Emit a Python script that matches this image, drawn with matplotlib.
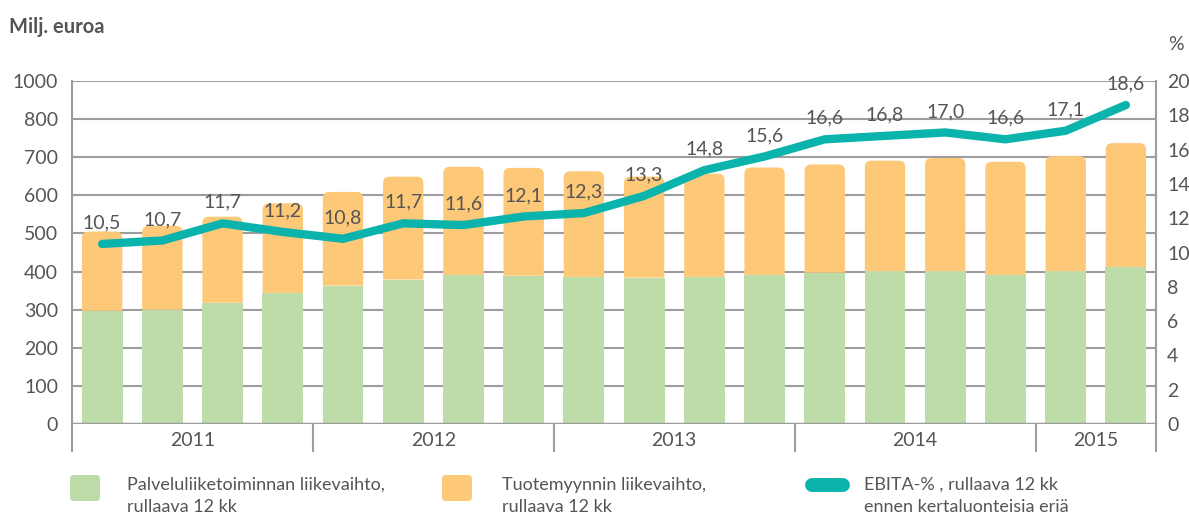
import numpy as np
import matplotlib
matplotlib.use('Agg')
import matplotlib.pyplot as plt
from matplotlib.lines import Line2D
from matplotlib.patches import PathPatch, FancyBboxPatch
from matplotlib.path import Path

plt.rcParams['font.family'] = ['Lato', 'DejaVu Sans']

# data (rolling 12 months, quarters 2011 Q1 .. 2015 Q2)
years = ['2011', '2012', '2013', '2014', '2015']
quarters_per_year = [4, 4, 4, 4, 2]
services = [297, 300, 318, 344, 363, 379, 391, 389, 386, 384, 386, 391, 397, 401, 401, 391, 401, 412]
totals = [505, 520, 544, 579, 609, 649, 675, 672, 663, 649, 657, 673, 681, 691, 698, 688, 703, 737]
ebita = [10.5, 10.7, 11.7, 11.2, 10.8, 11.7, 11.6, 12.1, 12.3, 13.3, 14.8, 15.6, 16.6, 16.8, 17.0, 16.6, 17.1, 18.6]
left_ticks = [0, 100, 200, 300, 400, 500, 600, 700, 800, 900]
left_labels = ['0', '100', '200', '300', '400', '500', '600', '700', '800', '1000']
right_ticks = [0, 2, 4, 6, 8, 10, 12, 14, 16, 18, 20]

legend_labels = ['Palveluliiketoiminnan liikevaihto,\nrullaava 12 kk',
                 'Tuotemyynnin liikevaihto,\nrullaava 12 kk',
                 'EBITA-% , rullaava 12 kk\nennen kertaluonteisia eriä']

green = '#bddca9'
orange = '#fdc877'
teal = '#0ab3ab'
txt = '#555555'
grid = '#9d9d9d'

x = np.arange(len(services))
W, H = 1189, 516


def rounded_top(xc, bottom, top, w, rx, ry):
    # bar outline with rounded upper corners, in data coordinates
    x0, x1 = xc - w / 2, xc + w / 2
    verts = [(x0, bottom), (x1, bottom), (x1, top - ry), (x1, top), (x1 - rx, top),
             (x0 + rx, top), (x0, top), (x0, top - ry), (x0, bottom)]
    codes = [Path.MOVETO, Path.LINETO, Path.LINETO, Path.CURVE3, Path.CURVE3,
             Path.LINETO, Path.CURVE3, Path.CURVE3, Path.CLOSEPOLY]
    return Path(verts, codes)


fig = plt.figure(figsize=(W / 100, H / 100), dpi=100)
ax = fig.add_axes([72 / W, 1 - 424 / H, (1156 - 72) / W, (424 - 81) / H])

bw = 0.67
ax.bar(x, services, width=bw + 0.01, color=green, lw=0, zorder=2)
# product sales stacked on top, with rounded top corners
for xi, s, t in zip(x, services, totals):
    ax.add_patch(PathPatch(rounded_top(xi, s, t, bw, 0.11, 17), fc=orange, ec='none', lw=0, zorder=2))

ax.set_xlim(-0.5, len(x) - 0.5)
ax.set_ylim(0, 900)
ax.set_yticks(left_ticks)
ax.set_yticklabels(left_labels)
ax.set_xticks([])
for t in left_ticks[1:]:
    ax.axhline(t, color=grid, lw=1.5, zorder=1)
ax.axhline(0, color=grid, lw=2.5, zorder=3)
ax.tick_params(axis='y', length=0, labelsize=14, labelcolor=txt, pad=10)
for side in ['top', 'bottom']:
    ax.spines[side].set_visible(False)
for side in ['left', 'right']:
    ax.spines[side].set_color(grid)
    ax.spines[side].set_linewidth(1.5)

ax2 = ax.twinx()
ax2.plot(x, ebita, color=teal, lw=6, solid_capstyle='round', solid_joinstyle='miter', zorder=4)
for xi, v in zip(x, ebita):
    ax2.annotate(f'{v:.1f}'.replace('.', ','), (xi, v), xytext=(0, 9), textcoords='offset points',
                 ha='center', va='bottom', fontsize=14, color=txt)
ax2.set_ylim(0, 20)
ax2.set_yticks(right_ticks)
ax2.tick_params(axis='y', length=0, labelsize=14, labelcolor=txt, pad=8)
for side in ['top', 'bottom', 'left', 'right']:
    ax2.spines[side].set_visible(False)

# year separators and labels below the axis
edges = np.concatenate([[0], np.cumsum(quarters_per_year)]) - 0.5
for e in edges:
    ax.plot([e, e], [0, -70], color=grid, lw=1.5, clip_on=False, zorder=3)
for i, y in enumerate(years):
    ax.text((edges[i] + edges[i + 1]) / 2, -42, y, ha='center', va='center',
            fontsize=14, color=txt, clip_on=False)

fig.text(9 / W, 1 - 27 / H, 'Milj. euroa', fontsize=14.5, fontweight='bold', color=txt, va='center')
fig.text(1176 / W, 1 - 45 / H, '%', fontsize=14, color=txt, va='center', ha='center')

# legend, drawn by hand in figure pixels
for lx, col in [(70, green), (442, orange)]:
    fig.add_artist(FancyBboxPatch((lx + 4, H - 497), 22, 18, boxstyle='round,pad=4',
                                  fc=col, ec='none', transform=None))
fig.add_artist(Line2D([812 / W, 843 / W], [1 - 485 / H, 1 - 485 / H], color=teal, lw=10,
                      solid_capstyle='round', transform=fig.transFigure))
for tx, lab in zip([127, 502, 864], legend_labels):
    fig.text(tx / W, 1 - 496 / H, lab, fontsize=13, color=txt, va='center', ha='left',
             linespacing=1.45)

fig.savefig('out.png', dpi=100)
